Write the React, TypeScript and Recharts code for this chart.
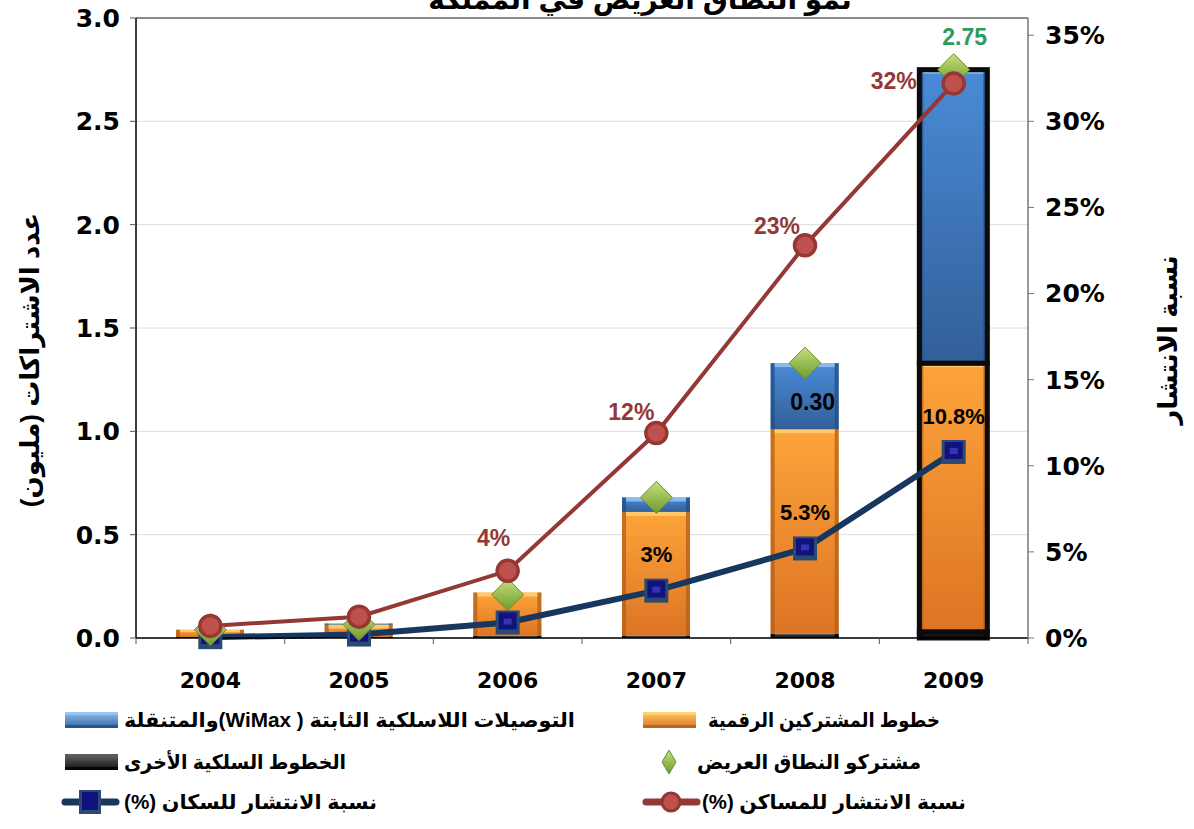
import React from 'react';
import {
  Bar,
  CartesianGrid,
  ComposedChart,
  LabelList,
  Line,
  ReferenceLine,
  XAxis,
  YAxis,
} from 'recharts';

// values
const years = ['2004', '2005', '2006', '2007', '2008', '2009'];
const otherWired = [0.005, 0.005, 0.01, 0.01, 0.02, 0.03];
const dslLines = [0.035, 0.06, 0.21, 0.6, 0.99, 1.3];
const wirelessLines = [0, 0.005, 0, 0.07, 0.32, 1.42];
const subscribers = [0.04, 0.065, 0.21, 0.68, 1.33, 2.75];
const householdPct = [0.007, 0.0124, 0.039, 0.119, 0.228, 0.322];
const populationPct = [0.0005, 0.002, 0.009, 0.0275, 0.052, 0.108];

const householdLabels = ['', '', '4%', '12%', '23%', '32%'];
const populationLabels = ['', '', '', '3%', '5.3%', '10.8%'];
const wirelessLabels = ['', '', '', '', '0.30', ''];
const subscriberLabels = ['', '', '', '', '', '2.75'];

const leftTicks = [0, 0.5, 1, 1.5, 2, 2.5, 3];
const rightTicks = [0, 0.05, 0.1, 0.15, 0.2, 0.25, 0.3, 0.35];

const data = years.map((year, i) => ({
  year,
  other: otherWired[i],
  dsl: dslLines[i],
  wireless: wirelessLines[i],
  subs: subscribers[i],
  house: householdPct[i],
  pop: populationPct[i],
  houseLabel: householdLabels[i],
  popLabel: populationLabels[i],
  wirelessLabel: wirelessLabels[i],
  subsLabel: subscriberLabels[i],
}));

const FONT = '"Liberation Sans", Arial, "DejaVu Sans", sans-serif';
const AXIS_FONT = '"DejaVu Sans", Verdana, sans-serif';
const RED = '#953735';
const NAVY = '#17375E';
const BAND = 892 / 6; // category width inside the plot

const BEVEL: Record<string, { grad: string; edge: string; hi: string }> = {
  orange: { grad: 'gOrange', edge: '#B35F1A', hi: '#FFD37A' },
  blue: { grad: 'gBlue', edge: '#214E86', hi: '#9CC8F2' },
  black: { grad: 'gBlack', edge: '#000000', hi: '#5a5a5a' },
};

const bevelShape = (kind: string) => (props: any) => {
  const { x, y, width, height, index } = props;
  if (!height || height <= 0) return <g />;
  const c = BEVEL[kind];
  const e = Math.min(4, width / 6);
  const h = Math.min(4, height / 3);
  return (
    <g>
      <rect x={x} y={y} width={width} height={height} fill={`url(#${c.grad})`} />
      <rect x={x} y={y} width={e} height={height} fill={c.edge} opacity={0.75} />
      <rect x={x + width - e} y={y} width={e} height={height} fill={c.edge} opacity={0.75} />
      <rect x={x + e} y={y} width={width - 2 * e} height={h} fill={c.hi} opacity={0.8} />
      {index === 5 && (
        <rect x={x} y={y} width={width} height={height} fill="none" stroke="#0b0b0b" strokeWidth={5} />
      )}
    </g>
  );
};

const RedDot = (props: any) => {
  const { cx, cy } = props;
  if (cx == null || cy == null) return <g />;
  return <circle cx={cx} cy={cy} r={10.5} fill="#C0504D" stroke={RED} strokeWidth={3.5} />;
};

const NavySquare = (props: any) => {
  const { cx, cy } = props;
  if (cx == null || cy == null) return <g />;
  return (
    <g>
      <rect x={cx - 12} y={cy - 12} width={24} height={24} fill="#2B4A72" />
      <rect x={cx - 9} y={cy - 10} width={18} height={17} fill="#12127E" />
      <rect x={cx - 4} y={cy - 4} width={8} height={6} fill="#3535B0" />
    </g>
  );
};

const Diamond = (props: any) => {
  const { cx, cy } = props;
  if (cx == null || cy == null) return <g />;
  return (
    <polygon
      points={`${cx},${cy - 16} ${cx + 16},${cy} ${cx},${cy + 16} ${cx - 16},${cy}`}
      fill="url(#gGreen)"
      stroke="#6E8F2E"
      strokeWidth={1}
    />
  );
};

const redOffsets = [
  { dx: 0, dy: 0 },
  { dx: 0, dy: 0 },
  { dx: -14, dy: -33 },
  { dx: -25, dy: -21 },
  { dx: -28, dy: -19 },
  { dx: -60, dy: -2 },
];

const labelText = (x: number, y: number, text: string, fill: string, size = 23) => (
  <text
    x={x}
    y={y}
    textAnchor="middle"
    dominantBaseline="central"
    fontFamily={FONT}
    fontWeight="bold"
    fontSize={size}
    fill={fill}
  >
    {text}
  </text>
);

const RedLabel = (props: any) => {
  const { x, y, value, index } = props;
  if (!value) return null;
  const o = redOffsets[index];
  return labelText(x + o.dx, y + o.dy, value, RED);
};

const PopLabel = (props: any) => {
  const { x, y, value } = props;
  if (!value) return null;
  return labelText(x, y - 36, value, '#000', 22);
};

const WirelessLabel = (props: any) => {
  const { x, y, width, height, value } = props;
  if (!value) return null;
  return labelText(x + width / 2 + 8, y + height / 2 + 6, value, '#000');
};

const SubsLabel = (props: any) => {
  const { x, y, value } = props;
  if (!value) return null;
  return labelText(x + 11, y - 33, value, '#2E9A5E');
};

const tickStyle = { fontFamily: AXIS_FONT, fontWeight: 'bold' as const, fontSize: 25, fill: '#000' };

// year label plus the small marks Excel puts at category boundaries
const YearTick = (props: any) => {
  const { x, y, payload, index } = props;
  const axisY = y - 34;
  return (
    <g>
      <line x1={x - BAND / 2} y1={axisY} x2={x - BAND / 2} y2={axisY + 6} stroke="#555" />
      {index === years.length - 1 && (
        <line x1={x + BAND / 2} y1={axisY} x2={x + BAND / 2} y2={axisY + 6} stroke="#555" />
      )}
      <text x={x} y={y} dy="0.71em" textAnchor="middle" fontFamily={AXIS_FONT} fontWeight="bold" fontSize={22} fill="#000">
        {payload.value}
      </text>
    </g>
  );
};

function BarSwatch({ x, cy, kind }: { x: number; cy: number; kind: string }) {
  const c = BEVEL[kind];
  return (
    <g>
      <rect x={x} y={cy - 8} width={53} height={16} fill={`url(#${c.grad}H)`} />
      <rect x={x} y={cy - 8} width={53} height={3} fill={c.hi} opacity={0.8} />
      <rect x={x} y={cy + 5} width={53} height={3} fill={c.edge} opacity={0.8} />
    </g>
  );
}

function LineSwatch({ x, cy, color, marker }: { x: number; cy: number; color: string; marker: 'circle' | 'square' }) {
  const mx = x + 28;
  return (
    <g>
      <line x1={x + 3} y1={cy} x2={x + 54} y2={cy} stroke={color} strokeWidth={7} strokeLinecap="round" />
      {marker === 'circle' ? (
        <circle cx={mx} cy={cy} r={9} fill="#C0504D" stroke={RED} strokeWidth={3} />
      ) : (
        <g>
          <rect x={mx - 11} y={cy - 12} width={22} height={24} fill="#2B4A72" />
          <rect x={mx - 8} y={cy - 10} width={16} height={18} fill="#12127E" />
        </g>
      )}
    </g>
  );
}

function LegendText({ right, left, cy, text }: { right: number; left: number; cy: number; text: string }) {
  return (
    <text
      x={right}
      y={cy}
      direction="rtl"
      textAnchor="start"
      dominantBaseline="central"
      textLength={right - left}
      lengthAdjust="spacingAndGlyphs"
      fontFamily={FONT}
      fontWeight="bold"
      fontSize={20}
      fill="#000"
    >
      {text}
    </text>
  );
}

export default function App() {
  return (
    <div style={{ position: 'absolute', left: 0, top: 0, width: 1194, height: 829, background: '#fff', overflow: 'hidden' }}>
      <svg width={0} height={0} style={{ position: 'absolute' }}>
        <defs>
          <linearGradient id="gOrange" x1="0" y1="0" x2="0" y2="1">
            <stop offset="0%" stopColor="#FDA43A" />
            <stop offset="100%" stopColor="#DD7424" />
          </linearGradient>
          <linearGradient id="gBlue" x1="0" y1="0" x2="0" y2="1">
            <stop offset="0%" stopColor="#4A8BD6" />
            <stop offset="100%" stopColor="#325F99" />
          </linearGradient>
          <linearGradient id="gBlack" x1="0" y1="0" x2="0" y2="1">
            <stop offset="0%" stopColor="#333" />
            <stop offset="100%" stopColor="#111" />
          </linearGradient>
          <linearGradient id="gOrangeH" x1="0" y1="0" x2="0" y2="1">
            <stop offset="0%" stopColor="#FFC95A" />
            <stop offset="100%" stopColor="#D9762A" />
          </linearGradient>
          <linearGradient id="gBlueH" x1="0" y1="0" x2="0" y2="1">
            <stop offset="0%" stopColor="#8EC0F0" />
            <stop offset="100%" stopColor="#3566A3" />
          </linearGradient>
          <linearGradient id="gBlackH" x1="0" y1="0" x2="0" y2="1">
            <stop offset="0%" stopColor="#666" />
            <stop offset="100%" stopColor="#111" />
          </linearGradient>
          <linearGradient id="gGreen" x1="0" y1="0" x2="0" y2="1">
            <stop offset="0%" stopColor="#C3E07A" />
            <stop offset="100%" stopColor="#6F9A2E" />
          </linearGradient>
        </defs>
      </svg>

      <ComposedChart width={1194} height={700} data={data} margin={{ top: 18, right: 96, bottom: 22, left: 66 }}>
        <CartesianGrid horizontal vertical={false} stroke="#dcdcdc" yAxisId="left" />
        <XAxis
          dataKey="year"
          height={40}
          axisLine={{ stroke: '#000', strokeWidth: 1.5 }}
          tickLine={false}
          tickSize={0}
          tickMargin={34}
          tick={YearTick}
        />
        <YAxis
          yAxisId="left"
          domain={[0, 3]}
          ticks={leftTicks}
          width={70}
          tickFormatter={(v: number) => v.toFixed(1)}
          axisLine={{ stroke: '#000', strokeWidth: 1.5 }}
          tickLine={{ stroke: '#555' }}
          tickSize={6}
          tickMargin={10}
          tick={tickStyle}
        />
        <YAxis
          yAxisId="right"
          orientation="right"
          domain={[0, 0.36]}
          ticks={rightTicks}
          width={70}
          tickFormatter={(v: number) => `${Math.round(v * 100)}%`}
          axisLine={{ stroke: '#777', strokeWidth: 1.5 }}
          tickLine={{ stroke: '#777' }}
          tickSize={6}
          tickMargin={11}
          tick={{ ...tickStyle, textAnchor: 'start' }}
        />
        <ReferenceLine yAxisId="left" y={3} stroke="#8a8a8a" strokeWidth={2} />

        <Bar yAxisId="left" dataKey="other" stackId="s" barSize={68} shape={bevelShape('black')} isAnimationActive={false} />
        <Bar yAxisId="left" dataKey="dsl" stackId="s" barSize={68} shape={bevelShape('orange')} isAnimationActive={false} />
        <Bar yAxisId="left" dataKey="wireless" stackId="s" barSize={68} shape={bevelShape('blue')} isAnimationActive={false}>
          <LabelList dataKey="wirelessLabel" content={WirelessLabel} />
        </Bar>

        <Line
          yAxisId="right"
          dataKey="pop"
          stroke={NAVY}
          strokeWidth={6}
          dot={(p: any) => <NavySquare key={`sq${p.index}`} {...p} />}
          activeDot={false}
          isAnimationActive={false}
        >
          <LabelList dataKey="popLabel" content={PopLabel} />
        </Line>
        <Line
          yAxisId="left"
          dataKey="subs"
          stroke="none"
          strokeWidth={0}
          dot={(p: any) => <Diamond key={`d${p.index}`} {...p} />}
          activeDot={false}
          isAnimationActive={false}
        >
          <LabelList dataKey="subsLabel" content={SubsLabel} />
        </Line>
        <Line
          yAxisId="right"
          dataKey="house"
          stroke={RED}
          strokeWidth={4}
          dot={(p: any) => <RedDot key={`c${p.index}`} {...p} />}
          activeDot={false}
          isAnimationActive={false}
        >
          <LabelList dataKey="houseLabel" content={RedLabel} />
        </Line>
      </ComposedChart>

      <svg width={1194} height={829} style={{ position: 'absolute', left: 0, top: 0, pointerEvents: 'none' }}>
        <text x={640} y={9} textAnchor="middle" fontFamily={FONT} fontWeight="bold" fontSize={28} fill="#000">
          نمو النطاق العريض في المملكة
        </text>
        <text
          x={0}
          y={0}
          transform="translate(30 360) rotate(-90)"
          textAnchor="middle"
          dominantBaseline="central"
          fontFamily={FONT}
          fontWeight="bold"
          fontSize={26}
          fill="#000"
        >
          عدد الاشتراكات (مليون)
        </text>
        <text
          x={0}
          y={0}
          transform="translate(1168 340) rotate(-90)"
          textAnchor="middle"
          dominantBaseline="central"
          fontFamily={FONT}
          fontWeight="bold"
          fontSize={26}
          fill="#000"
        >
          نسبة الانتشار
        </text>

        {/* legend */}
        <BarSwatch x={643} cy={720} kind="orange" />
        <LegendText right={940} left={708} cy={720} text="خطوط المشتركين الرقمية" />
        <BarSwatch x={65} cy={720} kind="blue" />
        <LegendText right={575} left={124} cy={720} text="التوصيلات اللاسلكية الثابتة ( WiMax)والمتنقلة" />

        <polygon points="669,750 676,762 669,774 662,762" fill="url(#gGreen)" stroke="#6E8F2E" strokeWidth={1} />
        <LegendText right={921} left={697} cy={762} text="مشتركو النطاق العريض" />
        <BarSwatch x={65} cy={762} kind="black" />
        <LegendText right={346} left={124} cy={762} text="الخطوط السلكية الأخرى" />

        <LineSwatch x={643} cy={802} color={RED} marker="circle" />
        <LegendText right={966} left={702} cy={802} text="نسبة الانتشار للمساكن  (%)" />
        <LineSwatch x={62} cy={802} color={NAVY} marker="square" />
        <LegendText right={377} left={124} cy={802} text="نسبة الانتشار للسكان  (%)" />
      </svg>
    </div>
  );
}
